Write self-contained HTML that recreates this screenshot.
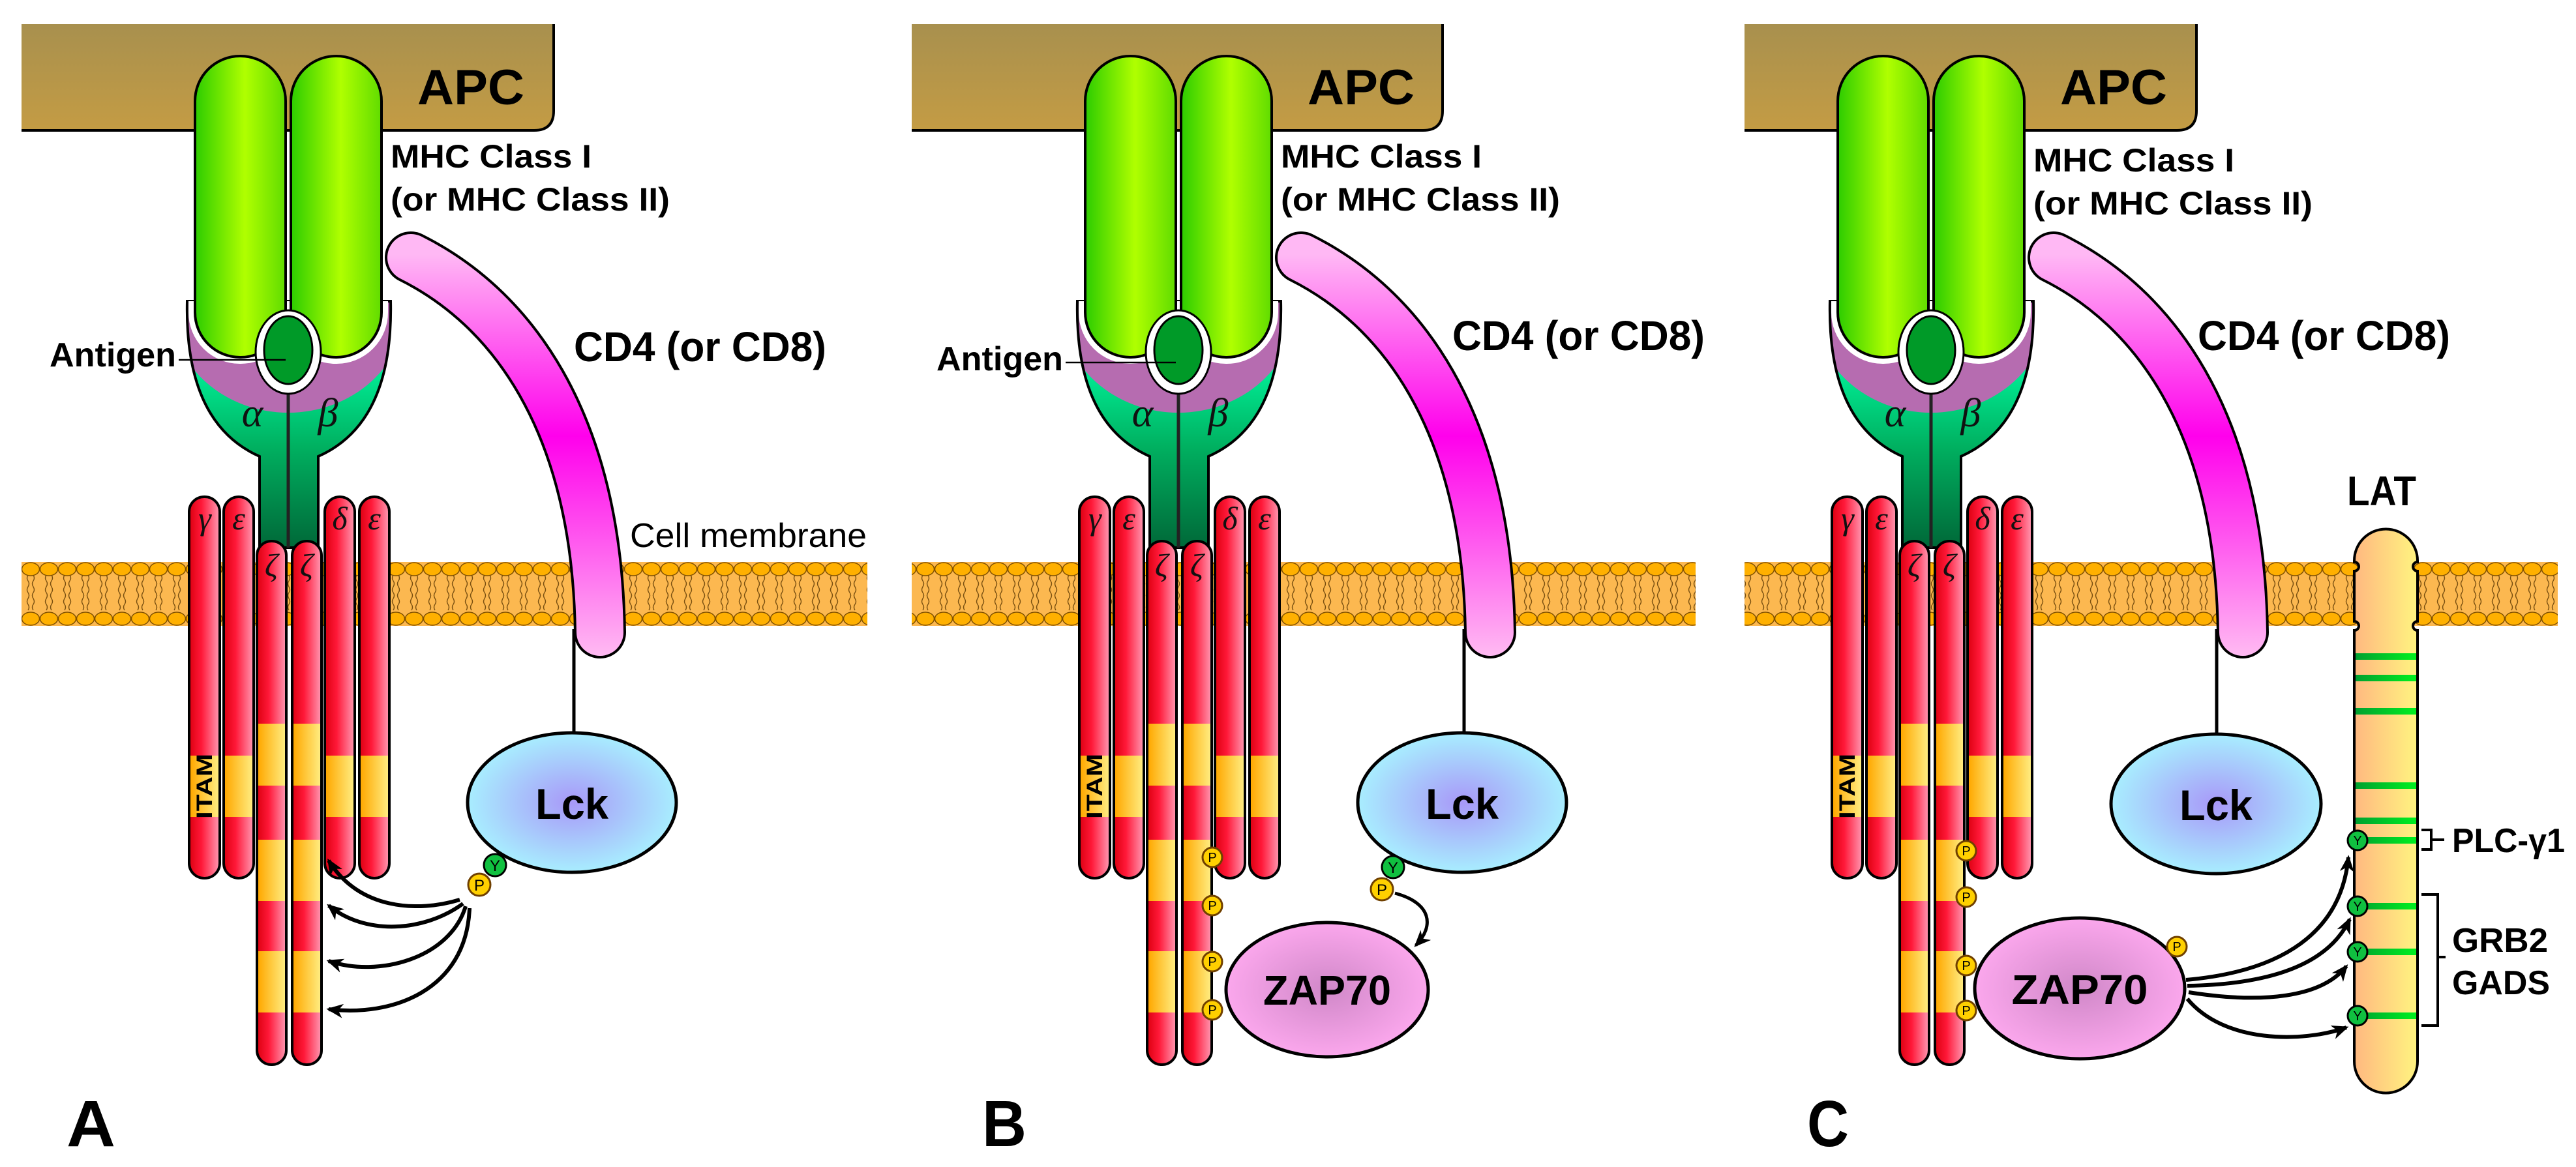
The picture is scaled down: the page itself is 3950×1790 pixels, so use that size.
<!DOCTYPE html>
<html><head><meta charset="utf-8"><style>
html,body{margin:0;padding:0;background:#fff;}
svg{display:block;}
text{font-family:"Liberation Sans",sans-serif;}
.g{font-family:"Liberation Serif","DejaVu Serif",serif;font-style:italic;}
</style></head><body>
<svg width="3950" height="1790" viewBox="0 0 3950 1790" xmlns="http://www.w3.org/2000/svg">
<defs>
<linearGradient id="apc" x1="0" y1="0" x2="0" y2="1"><stop offset="0" stop-color="#a8904e"/><stop offset="1" stop-color="#c49c44"/></linearGradient>
<linearGradient id="mhc" x1="0" y1="0" x2="1" y2="0"><stop offset="0" stop-color="#2ccc00"/><stop offset="0.55" stop-color="#b0ff00"/><stop offset="1" stop-color="#60dc00"/></linearGradient>
<linearGradient id="cup" gradientUnits="userSpaceOnUse" x1="0" y1="560" x2="0" y2="840"><stop offset="0" stop-color="#00f098"/><stop offset="0.45" stop-color="#00b060"/><stop offset="1" stop-color="#006838"/></linearGradient>
<linearGradient id="red" x1="0" y1="0" x2="1" y2="0"><stop offset="0" stop-color="#dc0010"/><stop offset="0.4" stop-color="#ff1838"/><stop offset="1" stop-color="#ff9ab4"/></linearGradient>
<linearGradient id="yel" x1="0" y1="0" x2="1" y2="0"><stop offset="0" stop-color="#ffa800"/><stop offset="1" stop-color="#ffec80"/></linearGradient>
<linearGradient id="cd4" gradientUnits="userSpaceOnUse" x1="0" y1="390" x2="0" y2="1010"><stop offset="0" stop-color="#ffb8f4"/><stop offset="0.45" stop-color="#ff00ec"/><stop offset="1" stop-color="#ffbcf2"/></linearGradient>
<radialGradient id="lck" cx="0.5" cy="0.5" r="0.55"><stop offset="0" stop-color="#a898f8"/><stop offset="1" stop-color="#a8f6ff"/></radialGradient>
<radialGradient id="zap" cx="0.5" cy="0.5" r="0.55"><stop offset="0" stop-color="#d088c8"/><stop offset="1" stop-color="#ffaaf0"/></radialGradient>
<linearGradient id="lat" x1="0" y1="0" x2="1" y2="0"><stop offset="0" stop-color="#ffb880"/><stop offset="1" stop-color="#fff480"/></linearGradient>
<linearGradient id="grn" x1="0" y1="0" x2="1" y2="0"><stop offset="0" stop-color="#00a030"/><stop offset="1" stop-color="#00f020"/></linearGradient>
<pattern id="mem" patternUnits="userSpaceOnUse" x="33" y="862" width="28" height="98">
<rect width="28" height="98" fill="#fcb850"/>
<path d="M10,20 q-3,5 0,9 t0,9 t0,9 t0,9 t0,9 t0,9 M18,20 q3,5 0,9 t0,9 t0,9 t0,9 t0,9 t0,9" fill="none" stroke="#7a5010" stroke-width="1.4"/>
<ellipse cx="14" cy="11" rx="13.5" ry="10" fill="#ffb000" stroke="#805000" stroke-width="1.5"/>
<ellipse cx="14" cy="87" rx="13.5" ry="10" fill="#ffb000" stroke="#805000" stroke-width="1.5"/>
</pattern>
<marker id="ah" viewBox="0 0 14 12" refX="12" refY="6" markerWidth="26" markerHeight="22" markerUnits="userSpaceOnUse" orient="auto">
<path d="M0,0 L14,6 L0,12 L4,6 Z" fill="#000"/></marker>
<clipPath id="cupclip"><path d="M287,462 C284,600 330,670 398,700 L398,840 L488,840 L488,700 C556,670 602,600 599,462 Z"/></clipPath>

<g id="tcr">
<path d="M287,462 C284,600 330,670 398,700 L398,840 L488,840 L488,700 C556,670 602,600 599,462 Z" fill="url(#cup)"/>
<ellipse cx="442" cy="470" rx="180" ry="163" fill="#b66cb0" clip-path="url(#cupclip)"/>
<path d="M287,462 C284,600 330,670 398,700 L398,840 L488,840 L488,700 C556,670 602,600 599,462 Z" fill="none" stroke="#000" stroke-width="4"/>
<rect x="299" y="86" width="139" height="462" rx="69" ry="69" fill="#fff" stroke="#fff" stroke-width="20" clip-path="url(#cupclip)"/>
<rect x="446" y="86" width="139" height="462" rx="69" ry="69" fill="#fff" stroke="#fff" stroke-width="20" clip-path="url(#cupclip)"/>
<rect x="299" y="86" width="139" height="462" rx="69" ry="69" fill="url(#mhc)" stroke="#000" stroke-width="4"/>
<rect x="446" y="86" width="139" height="462" rx="69" ry="69" fill="url(#mhc)" stroke="#000" stroke-width="4"/>
<line x1="442" y1="560" x2="442" y2="840" stroke="#222" stroke-width="5"/>
<ellipse cx="442" cy="540" rx="50" ry="64" fill="#fff" stroke="#000" stroke-width="3"/>
<ellipse cx="442" cy="537" rx="37" ry="52" fill="#009a28" stroke="#000" stroke-width="3"/>
</g>
</defs>

<!-- membranes -->
<rect x="33" y="862" width="1297" height="98" fill="url(#mem)"/>
<rect x="1398" y="862" width="1202" height="98" fill="url(#mem)"/>
<rect x="2675" y="862" width="1247" height="98" fill="url(#mem)"/>

<!-- APC boxes -->
<path d="M33,37 L849,37 L849,170 Q849,200 819,200 L33,200 Z" fill="url(#apc)"/>
<path d="M33,200 L819,200 Q849,200 849,170 L849,37" fill="none" stroke="#000" stroke-width="4"/>
<path d="M1398,37 L2212,37 L2212,170 Q2212,200 2182,200 L1398,200 Z" fill="url(#apc)"/>
<path d="M1398,200 L2182,200 Q2212,200 2212,170 L2212,37" fill="none" stroke="#000" stroke-width="4"/>
<path d="M2675,37 L3368,37 L3368,170 Q3368,200 3338,200 L2675,200 Z" fill="url(#apc)"/>
<path d="M2675,200 L3338,200 Q3368,200 3368,170 L3368,37" fill="none" stroke="#000" stroke-width="4"/>

<!-- Panel A -->
<g>
<use href="#tcr"/>
<path d="M630,395 C780,470 915,640 920,970" fill="none" stroke="#000" stroke-width="80" stroke-linecap="round"/>
<path d="M630,395 C780,470 915,640 920,970" fill="none" stroke="url(#cd4)" stroke-width="72" stroke-linecap="round"/>
<line x1="880" y1="965" x2="880" y2="1125" stroke="#000" stroke-width="5"/>
<g stroke="#000" stroke-width="4">
<rect x="290" y="762" width="47" height="585" rx="23" fill="url(#red)"/>
<rect x="343" y="762" width="46" height="585" rx="23" fill="url(#red)"/>
<rect x="498" y="762" width="46" height="585" rx="23" fill="url(#red)"/>
<rect x="551" y="762" width="46" height="585" rx="23" fill="url(#red)"/>
<rect x="394" y="830" width="45" height="803" rx="22" fill="url(#red)"/>
<rect x="448" y="830" width="45" height="803" rx="22" fill="url(#red)"/>
</g>
<g fill="url(#yel)">
<rect x="292" y="1159" width="43" height="94"/><rect x="345" y="1159" width="42" height="94"/>
<rect x="500" y="1159" width="42" height="94"/><rect x="553" y="1159" width="42" height="94"/>
<rect x="396" y="1110" width="41" height="95"/><rect x="450" y="1110" width="41" height="95"/>
<rect x="396" y="1288" width="41" height="94"/><rect x="450" y="1288" width="41" height="94"/>
<rect x="396" y="1459" width="41" height="94"/><rect x="450" y="1459" width="41" height="94"/>
</g>
<text transform="translate(325,1256) rotate(-90)" font-size="34" font-weight="bold" textLength="100" lengthAdjust="spacingAndGlyphs">ITAM</text>
<g font-size="50" text-anchor="middle" fill="#111">
<text x="314" y="812" class="g">γ</text><text x="366" y="812" class="g">ε</text>
<text x="521" y="812" class="g">δ</text><text x="574" y="812" class="g">ε</text>
<text x="416" y="884" class="g">ζ</text><text x="470" y="884" class="g">ζ</text>
<text x="387" y="654" class="g" font-size="62">α</text><text x="503" y="654" class="g" font-size="62">β</text>
</g>
<ellipse cx="877" cy="1231" rx="160" ry="107" fill="url(#lck)" stroke="#000" stroke-width="5"/>
<text x="877" y="1256" font-size="66" font-weight="bold" text-anchor="middle" textLength="112" lengthAdjust="spacingAndGlyphs">Lck</text>
<text x="640" y="160" font-size="76" font-weight="bold" textLength="164" lengthAdjust="spacingAndGlyphs">APC</text>
<text x="599" y="257" font-size="50" font-weight="bold" textLength="308" lengthAdjust="spacingAndGlyphs">MHC Class I</text>
<text x="599" y="323" font-size="50" font-weight="bold" textLength="428" lengthAdjust="spacingAndGlyphs">(or MHC Class II)</text>
<text x="880" y="554" font-size="64" font-weight="bold" textLength="387" lengthAdjust="spacingAndGlyphs">CD4 (or CD8)</text>
</g>
<text x="76" y="562" font-size="52" font-weight="bold" textLength="194" lengthAdjust="spacingAndGlyphs">Antigen</text>
<line x1="274" y1="552" x2="438" y2="552" stroke="#000" stroke-width="2.5"/>
<text x="966" y="839" font-size="52" textLength="363" lengthAdjust="spacingAndGlyphs">Cell membrane</text>
<circle cx="759" cy="1327" r="17" fill="#10c040" stroke="#000" stroke-width="3"/>
<text x="759" y="1336" font-size="24" text-anchor="middle">Y</text>
<circle cx="735" cy="1357" r="17" fill="#ffd000" stroke="#704000" stroke-width="3"/>
<text x="735" y="1366" font-size="24" text-anchor="middle">P</text>
<g fill="none" stroke="#000" stroke-width="6" marker-end="url(#ah)">
<path d="M705,1380 C640,1400 550,1395 504,1320"/>
<path d="M710,1386 C650,1430 560,1435 504,1389"/>
<path d="M714,1390 C690,1470 580,1500 504,1474"/>
<path d="M720,1393 C715,1520 600,1560 504,1548"/>
</g>
<text x="102" y="1758" font-size="100" font-weight="bold" textLength="75" lengthAdjust="spacingAndGlyphs">A</text>

<!-- Panel B -->
<g transform="translate(1365,0)">
<use href="#tcr"/>
<path d="M630,395 C780,470 915,640 920,970" fill="none" stroke="#000" stroke-width="80" stroke-linecap="round"/>
<path d="M630,395 C780,470 915,640 920,970" fill="none" stroke="url(#cd4)" stroke-width="72" stroke-linecap="round"/>
<line x1="880" y1="965" x2="880" y2="1125" stroke="#000" stroke-width="5"/>
<g stroke="#000" stroke-width="4">
<rect x="290" y="762" width="47" height="585" rx="23" fill="url(#red)"/>
<rect x="343" y="762" width="46" height="585" rx="23" fill="url(#red)"/>
<rect x="498" y="762" width="46" height="585" rx="23" fill="url(#red)"/>
<rect x="551" y="762" width="46" height="585" rx="23" fill="url(#red)"/>
<rect x="394" y="830" width="45" height="803" rx="22" fill="url(#red)"/>
<rect x="448" y="830" width="45" height="803" rx="22" fill="url(#red)"/>
</g>
<g fill="url(#yel)">
<rect x="292" y="1159" width="43" height="94"/><rect x="345" y="1159" width="42" height="94"/>
<rect x="500" y="1159" width="42" height="94"/><rect x="553" y="1159" width="42" height="94"/>
<rect x="396" y="1110" width="41" height="95"/><rect x="450" y="1110" width="41" height="95"/>
<rect x="396" y="1288" width="41" height="94"/><rect x="450" y="1288" width="41" height="94"/>
<rect x="396" y="1459" width="41" height="94"/><rect x="450" y="1459" width="41" height="94"/>
</g>
<text transform="translate(325,1256) rotate(-90)" font-size="34" font-weight="bold" textLength="100" lengthAdjust="spacingAndGlyphs">ITAM</text>
<g font-size="50" text-anchor="middle" fill="#111">
<text x="314" y="812" class="g">γ</text><text x="366" y="812" class="g">ε</text>
<text x="521" y="812" class="g">δ</text><text x="574" y="812" class="g">ε</text>
<text x="416" y="884" class="g">ζ</text><text x="470" y="884" class="g">ζ</text>
<text x="387" y="654" class="g" font-size="62">α</text><text x="503" y="654" class="g" font-size="62">β</text>
</g>
<ellipse cx="877" cy="1231" rx="160" ry="107" fill="url(#lck)" stroke="#000" stroke-width="5"/>
<text x="877" y="1256" font-size="66" font-weight="bold" text-anchor="middle" textLength="112" lengthAdjust="spacingAndGlyphs">Lck</text>
<text x="640" y="160" font-size="76" font-weight="bold" textLength="164" lengthAdjust="spacingAndGlyphs">APC</text>
<text x="599" y="257" font-size="50" font-weight="bold" textLength="308" lengthAdjust="spacingAndGlyphs">MHC Class I</text>
<text x="599" y="323" font-size="50" font-weight="bold" textLength="428" lengthAdjust="spacingAndGlyphs">(or MHC Class II)</text>
<text x="862" y="537" font-size="64" font-weight="bold" textLength="387" lengthAdjust="spacingAndGlyphs">CD4 (or CD8)</text>
<text x="71" y="568" font-size="52" font-weight="bold" textLength="194" lengthAdjust="spacingAndGlyphs">Antigen</text>
<line x1="269" y1="556" x2="438" y2="556" stroke="#000" stroke-width="2.5"/>
<circle cx="771" cy="1330" r="17" fill="#10c040" stroke="#000" stroke-width="3"/>
<text x="771" y="1339" font-size="24" text-anchor="middle">Y</text>
<circle cx="754" cy="1364" r="17" fill="#ffd000" stroke="#704000" stroke-width="3"/>
<text x="754" y="1373" font-size="24" text-anchor="middle">P</text>
<path d="M774,1370 C830,1385 835,1420 806,1450" fill="none" stroke="#000" stroke-width="5" marker-end="url(#ah)"/>
<ellipse cx="670" cy="1518" rx="155" ry="103" fill="url(#zap)" stroke="#000" stroke-width="5"/>
<text x="670" y="1541" font-size="64" font-weight="bold" text-anchor="middle" textLength="196" lengthAdjust="spacingAndGlyphs">ZAP70</text>
<g fill="#ffd000" stroke="#704000" stroke-width="3">
<circle cx="494" cy="1315" r="15"/><circle cx="494" cy="1389" r="15"/><circle cx="494" cy="1475" r="15"/><circle cx="494" cy="1549" r="15"/>
</g>
<g font-size="20" text-anchor="middle"><text x="494" y="1322">P</text><text x="494" y="1396">P</text><text x="494" y="1482">P</text><text x="494" y="1556">P</text></g>
<text x="141" y="1758" font-size="100" font-weight="bold" textLength="68" lengthAdjust="spacingAndGlyphs">B</text>
</g>

<!-- Panel C -->
<g transform="translate(2519,0)">
<use href="#tcr"/>
<path d="M630,395 C780,470 915,640 920,970" fill="none" stroke="#000" stroke-width="80" stroke-linecap="round"/>
<path d="M630,395 C780,470 915,640 920,970" fill="none" stroke="url(#cd4)" stroke-width="72" stroke-linecap="round"/>
<line x1="880" y1="965" x2="880" y2="1125" stroke="#000" stroke-width="5"/>
<g stroke="#000" stroke-width="4">
<rect x="290" y="762" width="47" height="585" rx="23" fill="url(#red)"/>
<rect x="343" y="762" width="46" height="585" rx="23" fill="url(#red)"/>
<rect x="498" y="762" width="46" height="585" rx="23" fill="url(#red)"/>
<rect x="551" y="762" width="46" height="585" rx="23" fill="url(#red)"/>
<rect x="394" y="830" width="45" height="803" rx="22" fill="url(#red)"/>
<rect x="448" y="830" width="45" height="803" rx="22" fill="url(#red)"/>
</g>
<g fill="url(#yel)">
<rect x="292" y="1159" width="43" height="94"/><rect x="345" y="1159" width="42" height="94"/>
<rect x="500" y="1159" width="42" height="94"/><rect x="553" y="1159" width="42" height="94"/>
<rect x="396" y="1110" width="41" height="95"/><rect x="450" y="1110" width="41" height="95"/>
<rect x="396" y="1288" width="41" height="94"/><rect x="450" y="1288" width="41" height="94"/>
<rect x="396" y="1459" width="41" height="94"/><rect x="450" y="1459" width="41" height="94"/>
</g>
<text transform="translate(325,1256) rotate(-90)" font-size="34" font-weight="bold" textLength="100" lengthAdjust="spacingAndGlyphs">ITAM</text>
<g font-size="50" text-anchor="middle" fill="#111">
<text x="314" y="812" class="g">γ</text><text x="366" y="812" class="g">ε</text>
<text x="521" y="812" class="g">δ</text><text x="574" y="812" class="g">ε</text>
<text x="416" y="884" class="g">ζ</text><text x="470" y="884" class="g">ζ</text>
<text x="387" y="654" class="g" font-size="62">α</text><text x="503" y="654" class="g" font-size="62">β</text>
</g>
<ellipse cx="879" cy="1233" rx="161" ry="107" fill="url(#lck)" stroke="#000" stroke-width="5"/>
<text x="879" y="1258" font-size="66" font-weight="bold" text-anchor="middle" textLength="112" lengthAdjust="spacingAndGlyphs">Lck</text>
<text x="640" y="160" font-size="76" font-weight="bold" textLength="164" lengthAdjust="spacingAndGlyphs">APC</text>
<text x="599" y="263" font-size="50" font-weight="bold" textLength="308" lengthAdjust="spacingAndGlyphs">MHC Class I</text>
<text x="599" y="329" font-size="50" font-weight="bold" textLength="428" lengthAdjust="spacingAndGlyphs">(or MHC Class II)</text>
<text x="851" y="537" font-size="64" font-weight="bold" textLength="387" lengthAdjust="spacingAndGlyphs">CD4 (or CD8)</text>
<ellipse cx="670" cy="1516" rx="161" ry="108" fill="url(#zap)" stroke="#000" stroke-width="5"/>
<text x="670" y="1540" font-size="64" font-weight="bold" text-anchor="middle" textLength="209" lengthAdjust="spacingAndGlyphs">ZAP70</text>
<g fill="#ffd000" stroke="#704000" stroke-width="3">
<circle cx="496" cy="1305" r="15"/><circle cx="496" cy="1376" r="15"/><circle cx="496" cy="1481" r="15"/><circle cx="496" cy="1550" r="15"/><circle cx="819" cy="1452" r="15"/>
</g>
<g font-size="20" text-anchor="middle"><text x="496" y="1312">P</text><text x="496" y="1383">P</text><text x="496" y="1488">P</text><text x="496" y="1557">P</text><text x="819" y="1459">P</text></g>
<text x="252" y="1758" font-size="100" font-weight="bold" textLength="64" lengthAdjust="spacingAndGlyphs">C</text>
</g>

<!-- LAT -->
<path d="M3610,860 A48.5,48.5 0 0 1 3707,860 L3707,862 A7,7 0 0 0 3707,876 L3707,953 A7,7 0 0 0 3707,967 L3707,1628 A48.5,48.5 0 0 1 3610,1628 L3610,967 A7,7 0 0 0 3610,953 L3610,876 A7,7 0 0 0 3610,862 Z" fill="url(#lat)" stroke="#000" stroke-width="4"/>
<g fill="url(#grn)">
<rect x="3612" y="1002" width="93" height="10"/><rect x="3612" y="1035" width="93" height="10"/>
<rect x="3612" y="1086" width="93" height="10"/><rect x="3612" y="1200" width="93" height="10"/>
<rect x="3612" y="1254" width="93" height="10"/><rect x="3612" y="1284" width="93" height="10"/>
<rect x="3612" y="1385" width="93" height="10"/><rect x="3612" y="1455" width="93" height="10"/>
<rect x="3612" y="1553" width="93" height="10"/>
</g>
<g fill="#10c040" stroke="#000" stroke-width="3">
<circle cx="3615" cy="1289" r="15"/><circle cx="3615" cy="1390" r="15"/><circle cx="3615" cy="1460" r="15"/><circle cx="3615" cy="1558" r="15"/>
</g>
<g font-size="20" text-anchor="middle"><text x="3615" y="1296">Y</text><text x="3615" y="1397">Y</text><text x="3615" y="1467">Y</text><text x="3615" y="1565">Y</text></g>
<text x="3599" y="775" font-size="64" font-weight="bold" textLength="106" lengthAdjust="spacingAndGlyphs">LAT</text>
<path d="M3713,1273 L3728,1273 L3728,1303 L3713,1303 M3728,1288 L3748,1288" fill="none" stroke="#000" stroke-width="4"/>
<text x="3760" y="1307" font-size="52" font-weight="bold" textLength="173" lengthAdjust="spacingAndGlyphs">PLC-γ1</text>
<path d="M3713,1372 L3738,1372 L3738,1573 L3713,1573 M3738,1468 L3750,1468" fill="none" stroke="#000" stroke-width="4"/>
<text x="3760" y="1460" font-size="52" font-weight="bold" textLength="147" lengthAdjust="spacingAndGlyphs">GRB2</text>
<text x="3760" y="1525" font-size="52" font-weight="bold" textLength="150" lengthAdjust="spacingAndGlyphs">GADS</text>
<g fill="none" stroke="#000" stroke-width="6" marker-end="url(#ah)">
<path d="M3352,1503 C3500,1490 3590,1430 3601,1315"/>
<path d="M3354,1512 C3480,1510 3570,1480 3603,1410"/>
<path d="M3356,1522 C3470,1540 3560,1530 3598,1482"/>
<path d="M3354,1532 C3410,1600 3530,1600 3598,1576"/>
</g>
</svg>
</body></html>
